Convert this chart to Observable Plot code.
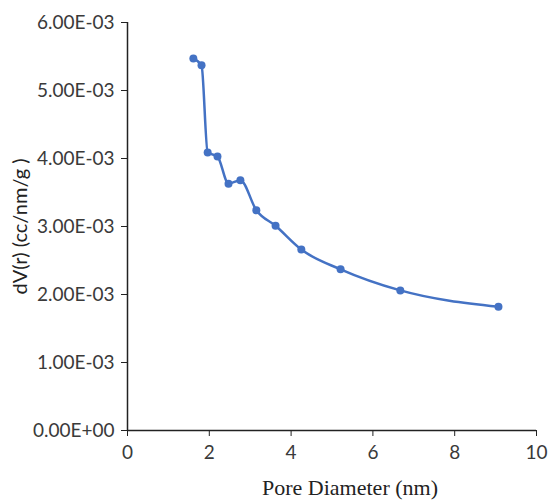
<!DOCTYPE html>
<html><head><meta charset="utf-8">
<script src="https://cdn.jsdelivr.net/npm/d3@7"></script>
<script src="https://cdn.jsdelivr.net/npm/@observablehq/plot@0.6"></script>
<style>
body{margin:0;background:#fff;}
g[aria-label$="tick label"]{font-size:19px !important;font-family:Lato,sans-serif;}
</style>
</head><body><div id="chart"></div>
<script>
const poreDiameter = [1.61, 1.81, 1.96, 2.20, 2.47, 2.76, 3.15, 3.62, 4.25, 5.21, 6.67, 9.07];
const dV = [5.47e-3, 5.37e-3, 4.09e-3, 4.03e-3, 3.63e-3, 3.68e-3, 3.24e-3, 3.01e-3, 2.66e-3, 2.37e-3, 2.06e-3, 1.82e-3];
const xTicks = [0, 2, 4, 6, 8, 10];
const yTicks = [0, 1e-3, 2e-3, 3e-3, 4e-3, 5e-3, 6e-3];
const xTitle = "Pore Diameter (nm)";
const yTitle = "dV(r) (cc/nm/g )";

const data = poreDiameter.map((x, i) => ({x, y: dV[i]}));
const fmt = d => {
  const [m, e] = d.toExponential(2).split("e");
  const n = +e;
  return m + "E" + (n < 0 ? "-" : "+") + String(Math.abs(n)).padStart(2, "0");
};
const blue = "#4472C4";
const chart = Plot.plot({
  width: 548, height: 502,
  marginLeft: 127, marginRight: 12, marginTop: 22, marginBottom: 72,
  style: {fontFamily: "Lato, sans-serif", fontSize: "17px", color: "#404040", background: "#fff"},
  x: {domain: [0, 10]},
  y: {domain: [0, 6e-3]},
  marks: [
    Plot.axisX({ticks: xTicks, tickSize: 6, tickPadding: 9, label: null, stroke: "#222", fill: "#3a3a3a"}),
    Plot.axisY({ticks: yTicks, tickFormat: fmt, tickSize: 6, tickPadding: 7, label: null, stroke: "#222", fill: "#3a3a3a"}),
    Plot.ruleX([0], {stroke: "#222", strokeWidth: 1.5}),
    Plot.ruleY([0], {stroke: "#222", strokeWidth: 1.5}),
    Plot.line(data, {x: "x", y: "y", stroke: blue, strokeWidth: 2.5, curve: "monotone-x"}),
    Plot.dot(data, {x: "x", y: "y", fill: blue, r: 4}),
    Plot.text([yTitle], {frameAnchor: "left", textAnchor: "middle", rotate: -90, dx: -107, fontSize: 20, fill: "#222", fontFamily: "Lato, sans-serif"}),
    Plot.text([xTitle], {frameAnchor: "bottom", textAnchor: "middle", dy: 64, dx: 18, fontSize: 22, fill: "#222", fontFamily: "Liberation Serif, serif"})
  ]
});
document.getElementById("chart").append(chart);
</script>
</body></html>
